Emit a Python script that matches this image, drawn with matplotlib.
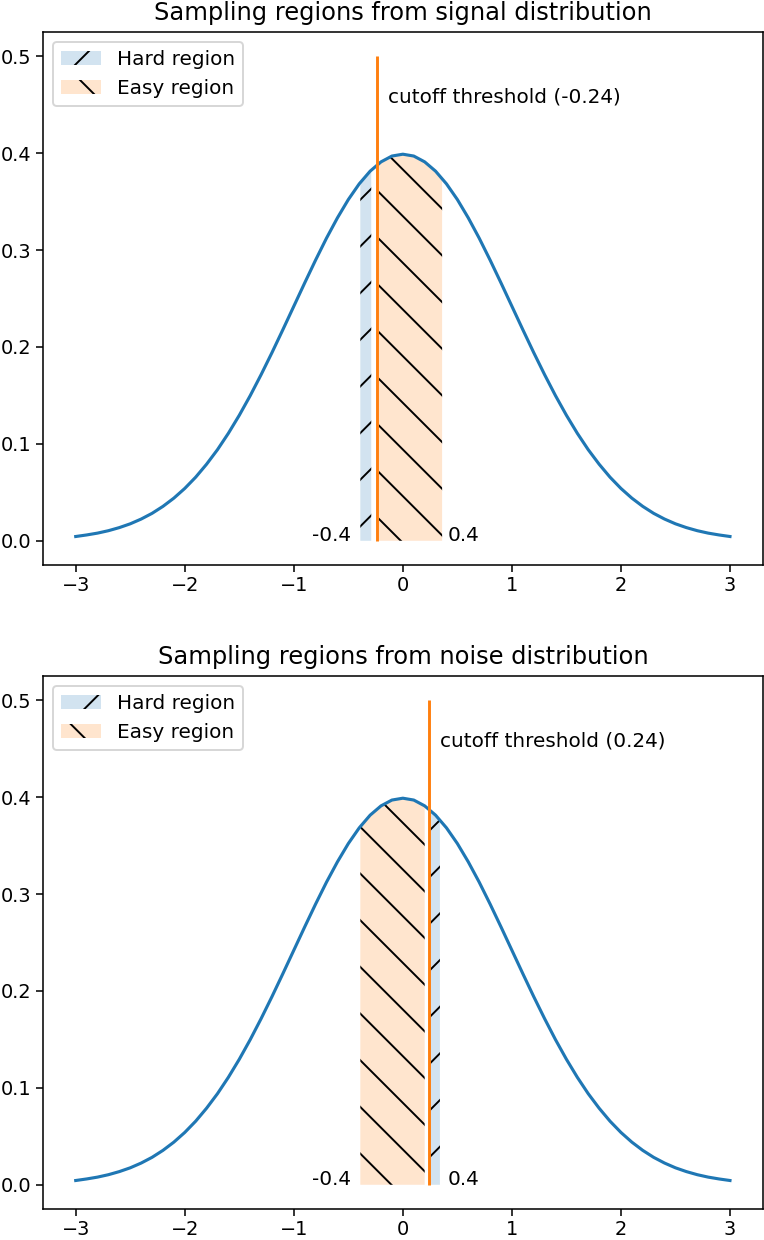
import numpy as np
import matplotlib
matplotlib.use("Agg")
import matplotlib.pyplot as plt
import matplotlib.colors as mcolors

# ---------------- data ----------------
curve_x = [round(-3.0 + 0.1 * i, 1) for i in range(61)]
curve_y = [0.0044, 0.0060, 0.0079, 0.0104, 0.0136, 0.0175, 0.0224, 0.0283, 0.0355, 0.0440,
           0.0540, 0.0656, 0.0790, 0.0940, 0.1109, 0.1295, 0.1497, 0.1714, 0.1942, 0.2179,
           0.2420, 0.2661, 0.2897, 0.3123, 0.3332, 0.3521, 0.3683, 0.3814, 0.3910, 0.3970,
           0.3989,
           0.3970, 0.3910, 0.3814, 0.3683, 0.3521, 0.3332, 0.3123, 0.2897, 0.2661, 0.2420,
           0.2179, 0.1942, 0.1714, 0.1497, 0.1295, 0.1109, 0.0940, 0.0790, 0.0656, 0.0540,
           0.0440, 0.0355, 0.0283, 0.0224, 0.0175, 0.0136, 0.0104, 0.0079, 0.0060, 0.0044]

titles = ["Sampling regions from signal distribution",
          "Sampling regions from noise distribution"]
thresholds = [-0.24, 0.24]
threshold_labels = ["cutoff threshold (-0.24)", "cutoff threshold (0.24)"]
legend_labels = ["Hard region", "Easy region"]
bound_labels = ["-0.4", "0.4"]
line_top = 0.5

# signal plot regions
sig_hard_x = [-0.39, -0.35, -0.29]
sig_hard_y = [0.370, 0.375, 0.383]
sig_easy_x = [-0.22, -0.1, 0.0, 0.1, 0.2, 0.3, 0.36]
sig_easy_y = [0.389, 0.397, 0.399, 0.397, 0.391, 0.381, 0.374]
# noise plot regions
noi_hard_x = [0.25, 0.30, 0.34]
noi_hard_y = [0.387, 0.381, 0.377]
noi_easy_x = [-0.39, -0.3, -0.2, -0.1, 0.0, 0.1, 0.2]
noi_easy_y = [0.370, 0.381, 0.391, 0.397, 0.399, 0.397, 0.391]

# ---------------- style ----------------
DPI = 140
fs = 144.5 / DPI
plt.rcParams.update({
    "font.family": ["DejaVu Sans"],
    "font.size": 10 * fs,
    "axes.titlesize": 12 * fs,
    "ytick.labelsize": 9.6 * fs,
    "xtick.labelsize": 9.6 * fs,
    "ytick.major.pad": 2.5,
    "xtick.major.pad": 2.2,
    "hatch.color": "black",
})

W, H = 764, 1240
fig = plt.figure(figsize=(W / DPI, H / DPI), dpi=DPI)
left, right = 43.0, 762.7
ax1 = fig.add_axes([left / W, 1 - 565 / H, (right - left) / W, (565 - 32) / H])
ax2 = fig.add_axes([left / W, 1 - 1209 / H, (right - left) / W, (1209 - 676) / H])

hard_fc = mcolors.to_rgba("C0", 0.2)
easy_fc = mcolors.to_rgba("C1", 0.2)

panels = [
    (ax1, sig_hard_x, sig_hard_y, sig_easy_x, sig_easy_y),
    (ax2, noi_hard_x, noi_hard_y, noi_easy_x, noi_easy_y),
]
for i, (ax, hx, hy, ex, ey) in enumerate(panels):
    ax.plot(curve_x, curve_y, color="C0", linewidth=1.6)
    h = ax.fill_between(hx, hy, 0, facecolor=hard_fc, edgecolor="none", linewidth=0,
                        hatch="/", label=legend_labels[0])
    e = ax.fill_between(ex, ey, 0, facecolor=easy_fc, edgecolor="none", linewidth=0,
                        hatch="\\", label=legend_labels[1])
    ax.vlines(thresholds[i], 0, line_top, color="C1", linewidth=1.5)
    ax.text(thresholds[i] + 0.1, 0.452, threshold_labels[i], ha="left", va="baseline")
    ax.text(-0.48, 0.0, bound_labels[0], ha="right", va="baseline")
    ax.text(0.41, 0.0, bound_labels[1], ha="left", va="baseline")
    ax.set_title(titles[i])
    ax.legend(handles=[h, e], loc="upper left")

fig.savefig("out.png", dpi=DPI)
